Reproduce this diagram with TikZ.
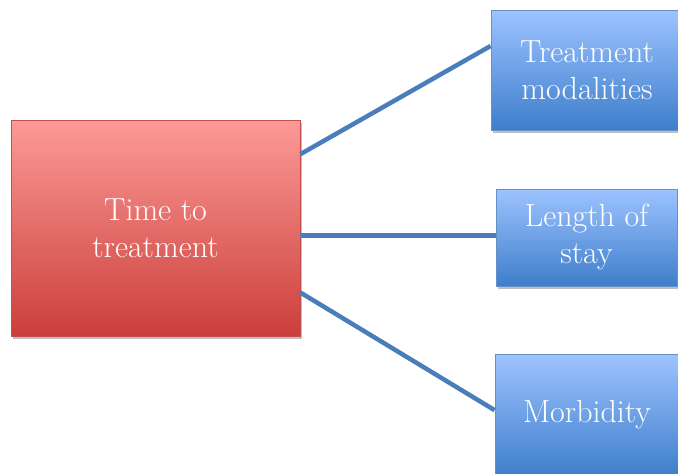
\documentclass[tikz,border=0pt]{standalone}
\usetikzlibrary{shadows}
\definecolor{redtop}{HTML}{FC9A97}
\definecolor{redbot}{HTML}{CB3F3B}
\definecolor{redline}{HTML}{C0504D}
\definecolor{bluetop}{HTML}{9DC3FF}
\definecolor{bluebot}{HTML}{3E7ECB}
\definecolor{blueline}{HTML}{4A7EBB}

\begin{document}
\begin{tikzpicture}[x=1pt, y=-1pt,
      causebox/.style={rectangle, draw=redline, line width=0.8pt,
                  top color=redtop, bottom color=redbot, text=white,
                  minimum width=289pt, minimum height=216pt, align=center,
                  font=\fontsize{32}{37}\selectfont,
                  drop shadow={shadow xshift=1.5pt, shadow yshift=-2.5pt, opacity=0.5}},
      effectbox/.style={rectangle, draw=blueline!85, line width=0.8pt,
                  top color=bluetop, bottom color=bluebot, text=white,
                  align=center, font=\fontsize{32}{37}\selectfont,
                  drop shadow={shadow xshift=1.5pt, shadow yshift=-2.5pt, opacity=0.5}},
      link/.style={line width=4.5pt, draw=blueline}]
    \useasboundingbox (0,0) rectangle (678,474);
    \node[causebox] (time) at (155.5,228) {Time to\\ treatment};
    \node[effectbox, minimum width=192pt, minimum height=120pt] (modal) at (587,70) {Treatment\\ modalities};
    \node[effectbox, minimum width=181pt, minimum height=97pt] (stay) at (586.5,237.5) {Length of\\ stay};
    \node[effectbox, minimum width=184pt, minimum height=122pt] (morb) at (587,415) {Morbidity};
    \draw[link] (time.27.7) -- (modal.166.5);
    \draw[link] (time.-3.5) -- (stay.west |- time.-3.5);
    \draw[link] (time.-24.2) -- (morb.177);
  \end{tikzpicture}
\end{document}
